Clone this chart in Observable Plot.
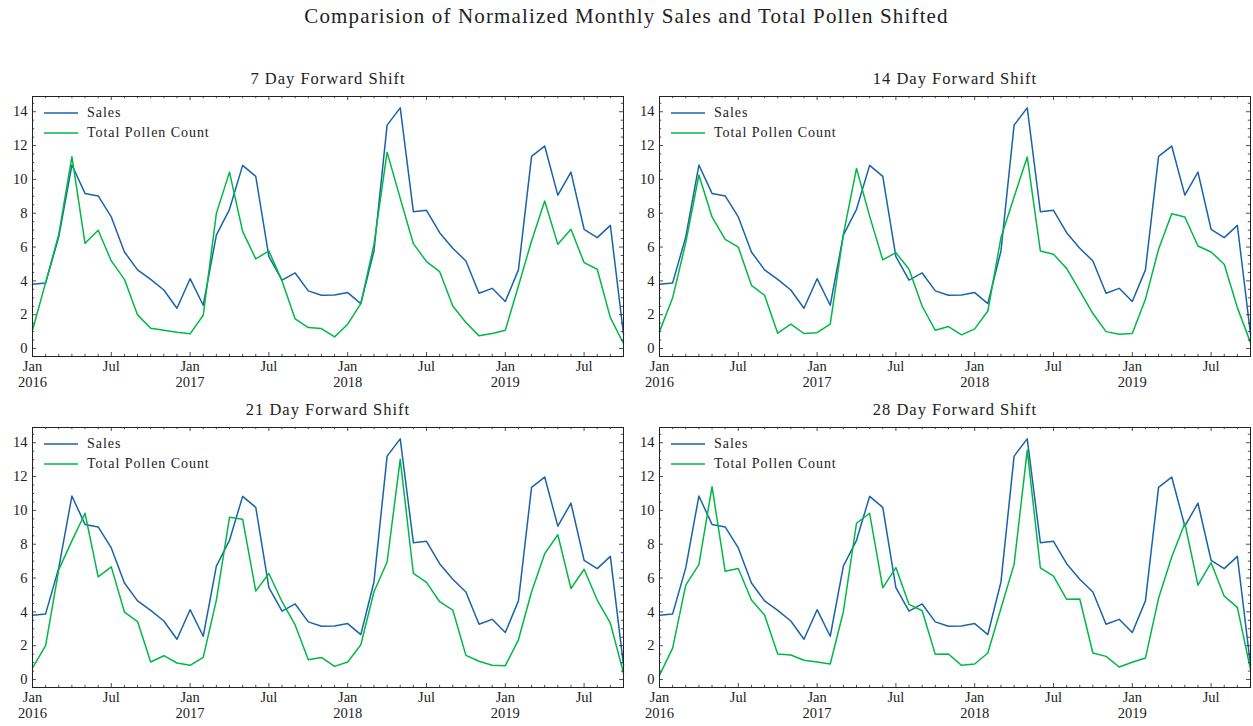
<!DOCTYPE html>
<html><head><meta charset="utf-8">
<script src="https://cdn.jsdelivr.net/npm/d3@7"></script>
<script src="https://cdn.jsdelivr.net/npm/@observablehq/plot@0.6"></script>
<style>
body{margin:0;background:#fff;font-family:"Liberation Serif",serif;color:#222;}
#wrap{position:relative;width:1253px;height:726px;overflow:hidden;}
#title{position:absolute;left:0;width:1253px;top:4px;text-align:center;font-size:21px;letter-spacing:1.15px;}
.panel{position:absolute;}
.panel svg g[aria-label="text"] text{letter-spacing:1px;}
.legend{position:absolute;font-size:14px;letter-spacing:0.95px;}
.legend .item{display:flex;align-items:center;height:20px;}
.legend svg{margin-right:9px;}
</style></head><body><div id="wrap"><div id="title">Comparision of Normalized Monthly Sales and Total Pollen Shifted</div></div>
<script>
const months = ["2016-01","2016-02","2016-03","2016-04","2016-05","2016-06","2016-07","2016-08","2016-09","2016-10","2016-11","2016-12",
"2017-01","2017-02","2017-03","2017-04","2017-05","2017-06","2017-07","2017-08","2017-09","2017-10","2017-11","2017-12",
"2018-01","2018-02","2018-03","2018-04","2018-05","2018-06","2018-07","2018-08","2018-09","2018-10","2018-11","2018-12",
"2019-01","2019-02","2019-03","2019-04","2019-05","2019-06","2019-07","2019-08","2019-09","2019-10"];
const sales = [3.80,3.88,6.6,10.85,9.17,9.02,7.78,5.71,4.65,4.09,3.46,2.38,4.13,2.56,6.71,8.23,10.83,10.18,5.43,4.04,4.47,3.41,3.15,3.17,3.31,2.66,5.77,13.21,14.23,8.09,8.17,6.85,5.93,5.18,3.27,3.56,2.78,4.65,11.36,11.97,9.07,10.43,7.05,6.56,7.28,0.85];
const pollen7 = [1.08,3.9,6.75,11.34,6.22,6.99,5.18,4.09,1.99,1.20,1.08,0.96,0.87,1.97,7.99,10.43,6.93,5.30,5.77,4.0,1.75,1.24,1.18,0.69,1.44,2.66,6.16,11.61,8.88,6.2,5.14,4.55,2.52,1.54,0.75,0.89,1.08,3.7,6.36,8.72,6.16,7.05,5.08,4.69,1.83,0.30];
const pollen14 = [1.0,3.0,6.26,10.26,7.78,6.46,6.0,3.74,3.15,0.91,1.44,0.89,0.94,1.44,6.75,10.65,7.83,5.24,5.67,4.69,2.5,1.08,1.30,0.81,1.16,2.22,6.56,8.96,11.32,5.77,5.57,4.74,3.41,2.07,1.0,0.85,0.89,2.91,5.87,7.97,7.78,6.06,5.71,4.98,2.42,0.35];
const pollen21 = [0.69,2.0,6.5,8.2,9.83,6.07,6.66,3.99,3.43,1.04,1.41,0.98,0.84,1.31,4.70,9.59,9.48,5.23,6.27,4.6,3.23,1.17,1.31,0.78,1.04,2.06,5.19,6.95,13.02,6.27,5.74,4.60,4.11,1.43,1.08,0.84,0.82,2.35,5.19,7.44,8.56,5.38,6.52,4.70,3.33,0.39];
const pollen28 = [0.25,1.86,5.58,6.79,11.40,6.40,6.56,4.70,3.82,1.51,1.45,1.14,1.04,0.92,4.01,9.24,9.83,5.42,6.62,4.44,4.07,1.49,1.51,0.84,0.92,1.57,4.21,6.81,13.55,6.60,6.11,4.74,4.76,1.57,1.37,0.74,1.02,1.27,4.80,7.24,9.24,5.58,6.91,4.93,4.27,0.59];
const panelTitles = ["7 Day Forward Shift","14 Day Forward Shift","21 Day Forward Shift","28 Day Forward Shift"];
const seriesNames = ["Sales","Total Pollen Count"];
const yTicks = [0,2,4,6,8,10,12,14];
const monthNames = {"01":"Jan","07":"Jul"};

const BLUE = "#1a63aa", GREEN = "#00B945", INK = "#222";
const W = 626, H = 340, ML = 32, MR = 3, MT = 36, MB = 44;
const PW = W - ML - MR, PH = H - MT - MB;

const idx = months.map((m, i) => i);
const majorX = idx.filter(i => monthNames[months[i].slice(5)]);
const minorX = idx.filter(i => !monthNames[months[i].slice(5)]);
const xLabel = i => {
  const [y, m] = months[i].split("-");
  return m === "01" ? `Jan\n${y}` : monthNames[m];
};
const minorY = d3.range(0, 15, 0.5).filter(v => !yTicks.includes(v));

function panel(title, pollen) {
  const rows = idx.map(i => ({i, sales: sales[i], pollen: pollen[i]}));
  const tk = (len, data, side) => {
    if (side === "bottom") return Plot.tickX(data, {x: d => d, insetTop: PH - len, stroke: INK, strokeWidth: 0.8});
    if (side === "top") return Plot.tickX(data, {x: d => d, insetBottom: PH - len, stroke: INK, strokeWidth: 0.8});
    if (side === "left") return Plot.tickY(data, {y: d => d, insetRight: PW - len, stroke: INK, strokeWidth: 0.8});
    return Plot.tickY(data, {y: d => d, insetLeft: PW - len, stroke: INK, strokeWidth: 0.8});
  };
  return Plot.plot({
    width: W, height: H, marginLeft: ML, marginRight: MR, marginTop: MT, marginBottom: MB,
    x: {domain: [0, months.length - 1], axis: null},
    y: {domain: [-0.47, 14.9], axis: null},
    style: {fontFamily: "Liberation Serif, serif", fontSize: "14.5px", color: INK, background: "transparent", overflow: "visible"},
    marks: [
      Plot.line(rows, {x: "i", y: "sales", stroke: BLUE, strokeWidth: 1.5}),
      Plot.line(rows, {x: "i", y: "pollen", stroke: GREEN, strokeWidth: 1.5}),
      tk(2.2, minorX, "bottom"), tk(2.2, minorX, "top"),
      tk(4, majorX, "bottom"), tk(4, majorX, "top"),
      tk(2.2, minorY, "left"), tk(2.2, minorY, "right"),
      tk(4, yTicks, "left"), tk(4, yTicks, "right"),
      Plot.frame({stroke: INK, strokeWidth: 1}),
      Plot.axisX({ticks: majorX, tickSize: 0, tickPadding: 3, tickFormat: xLabel, fontSize: 14.5, lineHeight: 1.1, label: null}),
      Plot.axisY({ticks: yTicks, tickSize: 0, tickPadding: 5, fontSize: 14.5, label: null}),
      Plot.text([title], {frameAnchor: "top", lineAnchor: "middle", dy: -17.5, fontSize: 16.5, fill: INK})
    ]
  });
}

const wrap = document.getElementById("wrap");
const positions = [[0, 60], [627, 60], [0, 391], [627, 391]];
const pollens = [pollen7, pollen14, pollen21, pollen28];
positions.forEach(([left, top], k) => {
  const div = document.createElement("div");
  div.className = "panel";
  div.style.left = left + "px"; div.style.top = top + "px";
  div.appendChild(panel(panelTitles[k], pollens[k]));
  wrap.appendChild(div);
  const lg = document.createElement("div");
  lg.className = "legend";
  lg.style.left = (left + 44) + "px"; lg.style.top = (top + 43) + "px";
  [BLUE, GREEN].forEach((c, j) => {
    const it = document.createElement("div"); it.className = "item";
    it.innerHTML = `<svg width="34" height="4"><line x1="0" x2="34" y1="2" y2="2" stroke="${c}" stroke-width="1.6"/></svg><span>${seriesNames[j]}</span>`;
    lg.appendChild(it);
  });
  wrap.appendChild(lg);
});
</script></body></html>
